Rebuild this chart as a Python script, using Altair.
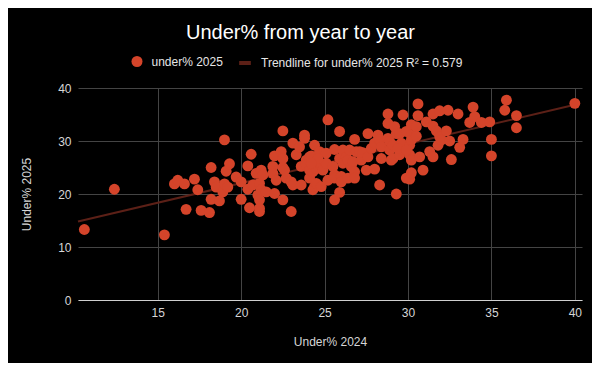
import altair as alt
import pandas as pd

# ---- data ----
under_2024 = [
    10.6, 12.4, 15.4, 16.0, 16.2, 16.6, 16.7, 17.2, 17.4, 17.6,
    18.1, 18.2, 18.2, 18.4, 18.5, 18.7, 18.9, 19.0, 19.0, 19.1,
    19.2, 19.3, 19.7, 20.0, 20.0, 20.4, 20.4, 20.5, 20.6, 20.7,
    20.9, 21.1, 21.2, 21.2, 21.0, 21.1, 21.1, 21.1, 21.5, 21.9,
    21.9, 22.0, 22.0, 22.1, 22.4, 22.5, 22.5, 22.5, 22.5, 22.6,
    22.7, 23.0, 23.0, 23.1, 23.1, 23.3, 23.5, 23.6, 23.6, 23.8,
    23.8, 23.9, 23.9, 24.1, 24.1, 24.1, 24.2, 24.3, 24.3, 24.4,
    24.4, 24.5, 24.5, 24.7, 24.7, 24.8, 24.8, 24.9, 25.1, 25.1,
    25.2, 25.2, 25.5, 25.6, 25.6, 25.6, 25.6, 25.9, 25.9, 25.9,
    26.0, 26.0, 26.1, 26.1, 26.3, 26.4, 26.4, 26.5, 26.6, 26.7,
    26.8, 26.8, 26.8, 26.9, 27.1, 27.2, 27.3, 27.5, 27.6, 27.6,
    27.8, 28.0, 28.0, 28.2, 28.3, 28.3, 28.4, 28.4, 28.8, 28.8,
    28.8, 28.9, 28.9, 29.0, 29.1, 29.1, 29.2, 29.3, 29.3, 29.5,
    29.5, 29.6, 29.7, 29.9, 29.9, 30.1, 30.1, 30.1, 30.2, 30.2,
    30.2, 30.2, 30.2, 30.5, 30.5, 30.6, 30.6, 30.7, 30.9, 31.1,
    31.3, 31.5, 31.5, 31.5, 31.7, 31.8, 31.9, 31.9, 32.0, 32.3,
    32.4, 32.5, 32.6, 33.0, 33.1, 33.3, 33.7, 33.9, 34.0, 34.4,
    34.9, 35.0, 35.0, 35.8, 35.9, 36.5, 36.5, 40.0, 29.4, 29.9,
    24.6, 21.3, 24.2,
]
under_2025 = [
    13.3, 20.9, 12.3, 21.9, 22.6, 21.9, 17.1, 22.8, 20.8, 16.9,
    16.5, 25.0, 19.0, 22.3, 21.3, 18.7, 20.4, 30.2, 21.9, 24.3,
    21.3, 25.7, 23.2, 22.3, 19.0, 25.3, 20.9, 17.4, 27.5, 21.7,
    23.9, 22.0, 20.8, 24.5, 19.8, 18.9, 17.3, 16.7, 20.4, 25.2,
    23.9, 27.2, 20.1, 22.6, 28.0, 31.9, 26.7, 25.0, 18.9, 24.5,
    23.0, 22.3, 16.7, 21.7, 29.6, 27.4, 28.9, 21.7, 25.2, 31.1,
    30.5, 26.4, 25.5, 27.0, 23.0, 24.5, 27.2, 24.2, 20.8, 29.2,
    21.4, 24.8, 22.0, 28.0, 25.8, 25.5, 21.4, 24.5, 25.8, 27.7,
    34.0, 22.6, 25.2, 28.4, 23.6, 23.0, 18.9, 31.8, 26.7, 20.3,
    23.3, 22.3, 28.3, 25.8, 27.0, 26.4, 23.0, 28.3, 25.2, 26.1,
    30.3, 24.2, 23.0, 28.0, 28.0, 26.4, 27.8, 24.5, 31.4, 27.0,
    28.6, 29.6, 24.7, 31.1, 30.2, 21.7, 28.9, 26.7, 35.1, 33.3,
    30.5, 28.3, 29.9, 26.4, 29.2, 26.7, 32.7, 31.4, 20.0, 27.4,
    31.4, 29.6, 34.9, 31.8, 23.0, 29.2, 27.4, 22.8, 33.1, 31.1,
    30.2, 26.4, 24.0, 32.7, 30.9, 37.0, 34.8, 27.0, 24.5, 33.6,
    28.0, 35.1, 32.8, 27.0, 31.9, 29.2, 35.7, 30.8, 30.2, 31.9,
    35.8, 30.0, 26.5, 35.1, 28.8, 30.3, 33.5, 36.4, 34.6, 33.5,
    33.6, 30.3, 27.2, 35.8, 37.7, 34.8, 32.5, 37.1, 28.6, 28.3,
    26.7, 23.6, 25.8,
]
series_name = "under% 2025"
trend_name = "Trendline for under% 2025 R\u00b2 = 0.579"
chart_title = "Under% from year to year"
x_title = "Under% 2024"
y_title = "Under% 2025"
x_ticks = [15, 20, 25, 30, 35, 40]
y_ticks = [0, 10, 20, 30, 40]
x_domain = [10.22, 40.43]
y_domain = [0, 40]

df = pd.DataFrame({"u2024": under_2024, "u2025": under_2025, "series": series_name})

FONT = "Liberation Sans"
POINT_COLOR = "#d4442a"
TREND_COLOR = "#5c2017"

x_enc = alt.X(
    "u2024:Q",
    title=x_title,
    scale=alt.Scale(domain=x_domain, nice=False, zero=False),
    axis=alt.Axis(values=x_ticks, grid=True, gridColor="#444444", domain=True,
                  domainColor="#d0d0d0", domainWidth=1, ticks=False, tickSize=0,
                  labelPadding=7, labelColor="#d6d6d6", labelFontSize=12,
                  titleColor="#d6d6d6", titleFontSize=12, titleFontWeight="normal",
                  titlePadding=18, labelFont=FONT, titleFont=FONT),
)
y_enc = alt.Y(
    "u2025:Q",
    title=y_title,
    scale=alt.Scale(domain=y_domain, nice=False),
    axis=alt.Axis(values=y_ticks, grid=True, gridColor="#444444", domain=False,
                  ticks=False, tickSize=0, labelPadding=7, labelColor="#d6d6d6",
                  labelFontSize=12, titleColor="#d6d6d6", titleFontSize=12,
                  titleFontWeight="normal", titlePadding=24, labelFont=FONT,
                  titleFont=FONT),
)

points = alt.Chart(df).mark_point(filled=True, size=118, opacity=1, strokeWidth=0).encode(
    x=x_enc,
    y=y_enc,
    color=alt.Color(
        "series:N",
        scale=alt.Scale(domain=[series_name], range=[POINT_COLOR]),
        legend=alt.Legend(orient="none", legendX=52.5, legendY=-33, title=None,
                          symbolType="circle", symbolSize=121, symbolOpacity=1,
                          labelColor="#e6e6e6", labelFontSize=12, labelFont=FONT,
                          labelOffset=8, padding=0, labelLimit=400),
    ),
)

trend = (
    alt.Chart(df)
    .transform_regression("u2024", "u2025", extent=[x_domain[0], 40])
    .transform_calculate(trend=f"'{trend_name}'")
    .mark_line(strokeWidth=2)
    .encode(
        x="u2024:Q",
        y="u2025:Q",
        color=alt.Color(
            "trend:N",
            scale=alt.Scale(domain=[trend_name], range=[TREND_COLOR]),
            legend=alt.Legend(orient="none", legendX=159, legendY=-33, title=None,
                              symbolType="stroke", symbolSize=137, symbolStrokeWidth=4,
                              labelColor="#e6e6e6", labelFontSize=12, labelFont=FONT,
                              labelOffset=8, padding=0, labelLimit=400),
        ),
    )
)

chart = (
    alt.layer(trend, points)
    .resolve_scale(color="independent")
    .properties(
        width=504,
        height=212,
        background="#000000",
        autosize=alt.AutoSizeParams(type="none"),
        padding={"left": 70, "top": 80, "right": 10, "bottom": 63},
        title=alt.TitleParams(chart_title, color="#ffffff", fontSize=20, font=FONT,
                              fontWeight="normal", anchor="middle", dx=-29.5,
                              offset=-4, baseline="alphabetic"),
    )
    .configure_view(stroke=None)
)

chart.save("out.html", embed_options={"renderer": "svg", "actions": False})
